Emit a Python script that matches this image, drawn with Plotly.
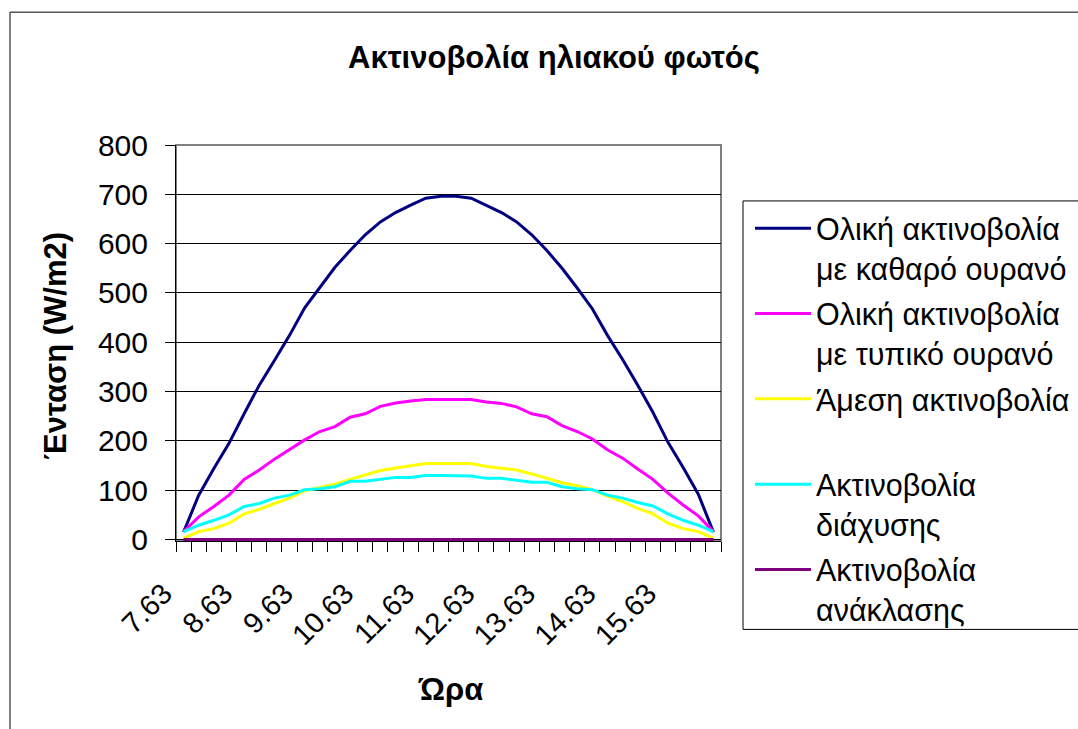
import plotly.graph_objects as go

# Time of day (hours, 15-minute steps) and solar irradiance series (W/m2)
hours = ["7.63", "7.88", "8.13", "8.38", "8.63", "8.88", "9.13", "9.38", "9.63",
         "9.88", "10.13", "10.38", "10.63", "10.88", "11.13", "11.38", "11.63",
         "11.88", "12.13", "12.38", "12.63", "12.88", "13.13", "13.38", "13.63",
         "13.88", "14.13", "14.38", "14.63", "14.88", "15.13", "15.38", "15.63",
         "15.88", "16.13", "16.38"]

total_clear = [15, 90, 144, 195, 255, 313, 363, 414, 470, 512, 552, 586, 618,
               644, 663, 678, 692, 696, 696, 692, 678, 663, 644, 618, 586, 550,
               510, 468, 414, 365, 313, 258, 197, 146, 92, 15]
total_typical = [16, 46, 67, 90, 122, 141, 163, 182, 202, 219, 229, 248, 255,
                 270, 277, 281, 284, 284, 284, 284, 279, 276, 269, 255, 249, 231,
                 219, 204, 182, 165, 143, 122, 94, 70, 48, 16]
direct = [3, 16, 22, 33, 52, 61, 73, 84, 99, 105, 112, 122, 131, 140, 145, 150,
          154, 154, 154, 154, 148, 145, 141, 133, 124, 115, 109, 101, 88, 77, 63,
          52, 33, 22, 16, 3]
diffuse = [16, 29, 39, 50, 67, 73, 84, 90, 101, 103, 107, 118, 118, 122, 126,
           126, 130, 130, 130, 129, 124, 124, 120, 116, 116, 107, 103, 101, 90,
           84, 75, 68, 52, 39, 29, 16]
reflected = [0] * len(hours)

label_step = 4
tick_idx = list(range(0, len(hours), label_step))
tick_text = [hours[i] for i in tick_idx]

series = [
    ("Ολική ακτινοβολία<br>με καθαρό ουρανό", total_clear, "#000080"),
    ("Ολική ακτινοβολία<br>με τυπικό ουρανό", total_typical, "#FF00FF"),
    ("Άμεση ακτινοβολία<br>&#160;", direct, "#FFFF00"),
    ("Ακτινοβολία<br>διάχυσης", diffuse, "#00FFFF"),
    ("Ακτινοβολία<br>ανάκλασης", reflected, "#800080"),
]

FONT = "Liberation Sans, Arial, sans-serif"
W, H = 1078, 729
L, R, T = 176, 721, 145
Y0PX = 540          # pixel row of value 0
YMIN, YMAX = -3, 800
ppu = (Y0PX - T) / YMAX
B = H - (Y0PX + (0 - YMIN) * ppu)
pw = R - L
ph = (0 - YMIN) * ppu + (Y0PX - T)


def px_x(x):
    return (x - L) / pw


def px_y(y):
    return (H - B - y) / ph


x_idx = list(range(len(hours)))
fig = go.Figure()
for i, (name, vals, color) in enumerate(series):
    fig.add_trace(go.Scatter(
        x=x_idx, y=vals, mode="lines", name=name,
        line=dict(color=color, width=3),
        legendgroup=f"g{i}",
    ))

fig.update_layout(
    width=W, height=H,
    margin=dict(l=L, r=W - R, t=T, b=B, pad=0, autoexpand=False),
    paper_bgcolor="white", plot_bgcolor="white",
    font=dict(family=FONT, color="black", size=28),
    title=dict(text="<b>Ακτινοβολία ηλιακού φωτός</b>",
               font=dict(size=31, family=FONT),
               x=554 / W, xanchor="center", xref="container",
               y=1 - 57 / H, yanchor="middle", yref="container"),
    showlegend=True,
    legend=dict(x=px_x(750), y=px_y(202), xanchor="left", yanchor="top",
                font=dict(size=30.5, family=FONT), bgcolor="rgba(0,0,0,0)",
                borderwidth=0, valign="top", tracegroupgap=3,
                itemwidth=56, maxheight=700),
    xaxis=dict(
        range=[-0.5, len(hours) - 0.5], tickmode="array",
        tickvals=tick_idx, ticktext=tick_text, tickangle=-45,
        ticks="", showgrid=False, zeroline=False,
        showline=True, linecolor="black", linewidth=1,
        tickfont=dict(size=29, family=FONT),
        ticklabelstandoff=23, ticklabelshift=-20,
        minor=dict(tickmode="linear", tick0=-0.5, dtick=1, ticks="outside",
                   ticklen=10, tickcolor="black", tickwidth=1, showgrid=False),
    ),
    yaxis=dict(
        range=[YMIN, YMAX], tickmode="linear", tick0=0, dtick=100,
        ticks="outside", ticklen=10, tickcolor="black", tickwidth=1,
        showgrid=True, gridcolor="black", gridwidth=1, zeroline=False,
        showline=True, linecolor="black", linewidth=1,
        tickfont=dict(size=30, family=FONT), ticklabelstandoff=11,
    ),
    shapes=[
        # plot-area frame (grey top/right edges)
        dict(type="rect", xref="paper", yref="paper", x0=0, x1=1, y0=0, y1=1,
             line=dict(color="#808080", width=2), layer="below"),
        # outer chart frame
        dict(type="rect", xref="paper", yref="paper",
             x0=px_x(10), x1=px_x(W + 10), y0=px_y(H + 10), y1=px_y(12),
             line=dict(color="black", width=1)),
        # legend box
        dict(type="rect", xref="paper", yref="paper",
             x0=px_x(743), x1=px_x(W + 10), y0=px_y(630), y1=px_y(201),
             line=dict(color="black", width=1)),
    ],
    annotations=[
        dict(text="<b>Ένταση (W/m2)</b>", textangle=-90, showarrow=False,
             xref="paper", yref="paper", x=px_x(56), y=px_y(346),
             xanchor="center", yanchor="middle",
             font=dict(size=31, family=FONT)),
        dict(text="<b>Ώρα</b>", showarrow=False,
             xref="paper", yref="paper", x=px_x(450), y=px_y(690),
             xanchor="center", yanchor="middle",
             font=dict(size=31, family=FONT)),
    ],
)

fig.write_html("out.html")
